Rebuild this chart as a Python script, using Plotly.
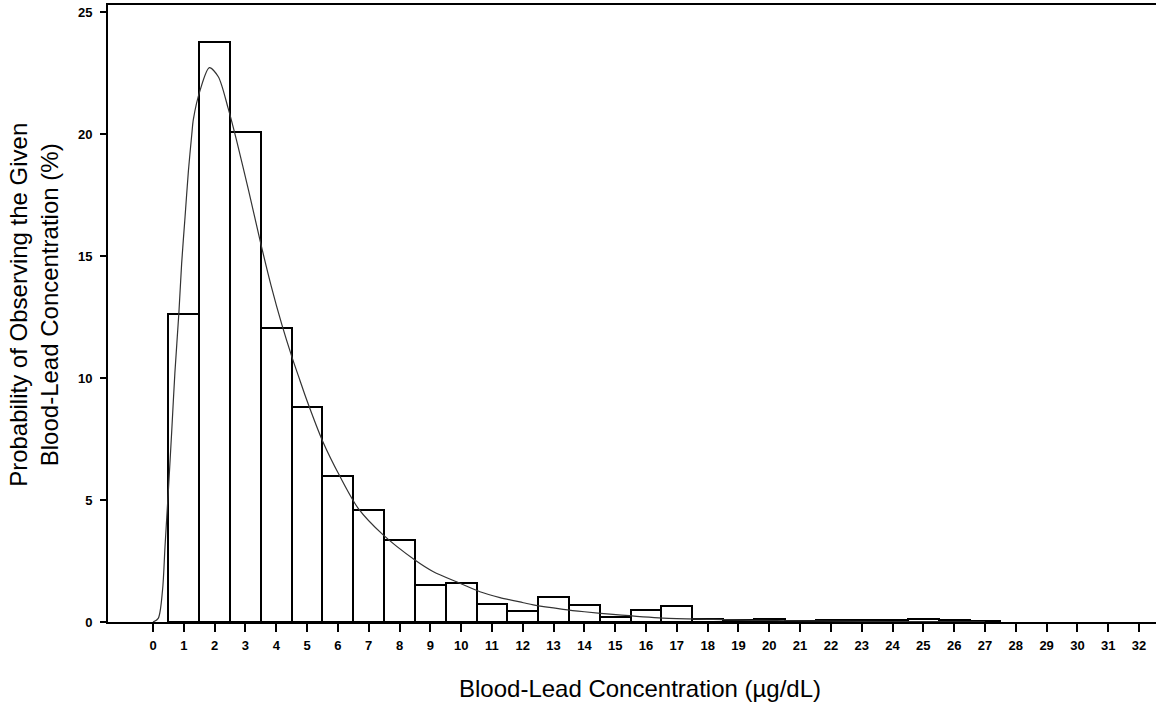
import plotly.graph_objects as go

# Histogram bars (bin centre in µg/dL, probability in %)
bin_centres = list(range(1, 28))
bar_pct = [12.63, 23.77, 20.07, 12.06, 8.82, 5.98, 4.59, 3.36, 1.53, 1.59,
           0.75, 0.47, 1.03, 0.71, 0.19, 0.51, 0.67, 0.11, 0.07, 0.14,
           0.05, 0.07, 0.07, 0.07, 0.12, 0.08, 0.03]

# Fitted curve
curve_x = [0.0, 0.17, 0.31, 0.39, 0.50, 0.61, 0.71, 0.84, 0.93, 1.04, 1.15, 1.26,
           1.31, 1.53, 1.83, 2.12, 2.44, 2.71, 3.1, 3.5, 3.83, 4.18, 4.5, 4.77,
           4.99, 5.51, 6.07, 6.66, 7.47, 8.5, 9.1, 9.96, 10.61, 11.26, 12.02,
           12.34, 13.31, 14.0, 14.93, 16.55, 18.18, 19.5, 21.75, 24.0, 27.0]
curve_y = [0.0, 0.15, 1.31, 3.09, 5.41, 7.87, 10.2, 12.66, 14.7, 16.6, 18.5, 20.0,
           20.6, 21.8, 22.72, 22.35, 21.05, 19.75, 17.7, 15.5, 13.8, 12.2, 10.9, 9.9,
           9.1, 7.4, 5.96, 4.66, 3.57, 2.54, 2.06, 1.59, 1.24, 1.0, 0.79,
           0.70, 0.52, 0.42, 0.31, 0.16, 0.11, 0.07, 0.04, 0.02, 0.01]

x_ticks = list(range(0, 33))
y_ticks = [0, 5, 10, 15, 20, 25]

fig = go.Figure()
fig.add_trace(go.Bar(
    x=bin_centres, y=bar_pct, width=1,
    marker=dict(color="white", line=dict(color="black", width=2)),
    showlegend=False, hoverinfo="x+y",
))
fig.add_trace(go.Scatter(
    x=curve_x, y=curve_y, mode="lines",
    line=dict(color="#333333", width=1.2, shape="spline", smoothing=0.8),
    showlegend=False,
))

tickfont = dict(family="Liberation Sans, Arial, sans-serif", size=13, color="black", weight="bold")
titlefont = dict(family="Liberation Sans, Arial, sans-serif", size=24, color="black")

fig.update_layout(
    width=1156, height=702,
    margin=dict(l=108, r=0, t=5, b=80, autoexpand=False),
    paper_bgcolor="white", plot_bgcolor="white",
    bargap=0,
    xaxis=dict(
        range=[-1.46, 32.55], tickmode="array", tickvals=x_ticks,
        ticktext=[str(v) for v in x_ticks],
        ticks="outside", ticklen=8, tickwidth=2, tickcolor="black",
        showline=True, linecolor="black", linewidth=2, mirror=True,
        showgrid=False, zeroline=False, tickfont=tickfont,
        ticklabelstandoff=2, automargin=False,
    ),
    yaxis=dict(
        range=[0, 25.29], tickmode="array", tickvals=y_ticks,
        ticks="outside", ticklen=6, tickwidth=2, tickcolor="black",
        showline=True, linecolor="black", linewidth=2, mirror=False,
        showgrid=False, zeroline=False, tickfont=tickfont,
        ticklabelstandoff=5, automargin=False,
    ),
    annotations=[
        dict(text="Probability of Observing the Given<br>Blood-Lead Concentration (%)",
             xref="paper", yref="paper", x=-0.0706, y=0.514,
             xanchor="center", yanchor="middle", textangle=-90, showarrow=False,
             font=titlefont),
        dict(text="Blood-Lead Concentration (µg/dL)",
             xref="paper", yref="paper", x=0.5076, y=-0.107,
             xanchor="center", yanchor="middle", showarrow=False,
             font=titlefont),
    ],
)

fig.write_html("out.html", config={"displayModeBar": False},
               post_script="document.body.style.margin='0px';document.body.style.overflow='hidden';")
